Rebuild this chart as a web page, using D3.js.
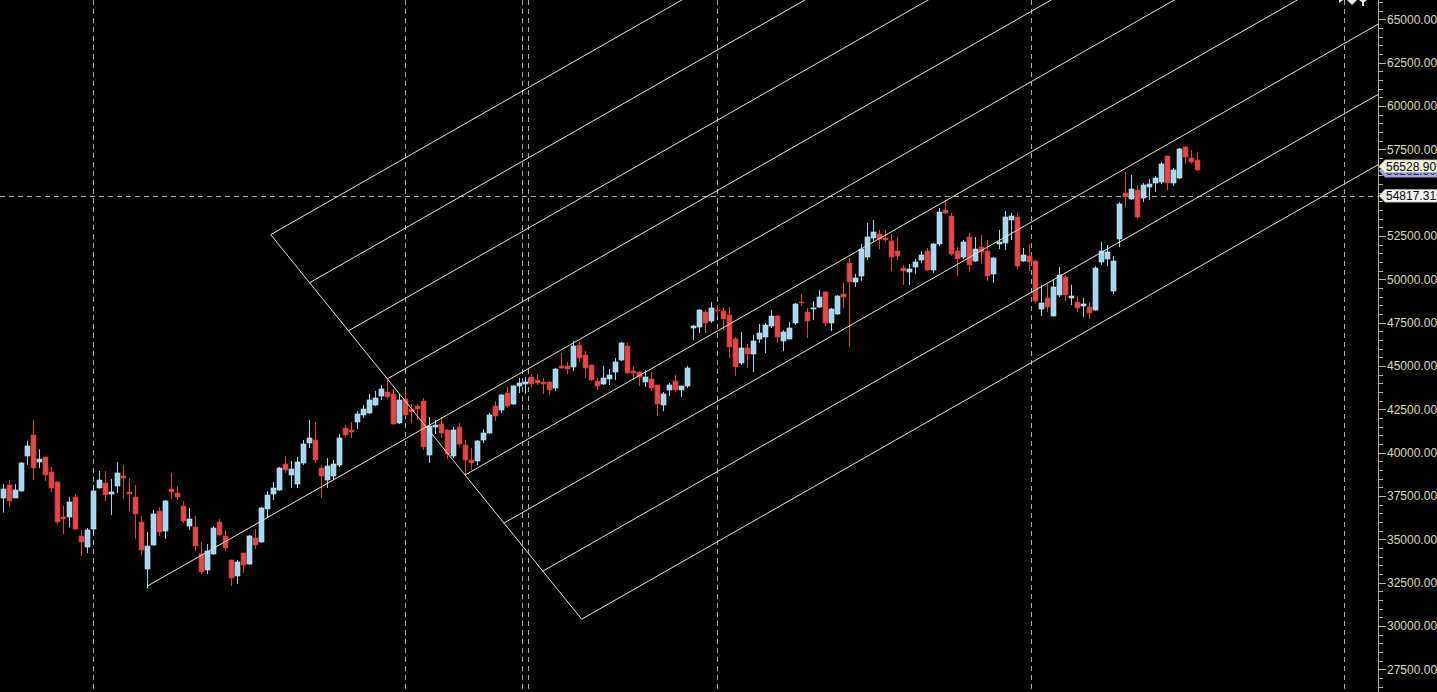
<!DOCTYPE html>
<html>
<head>
<meta charset="utf-8">
<script src="https://d3js.org/d3.v7.min.js"></script>
<style>
  html, body { margin: 0; padding: 0; background: #000; overflow: hidden; }
  svg { display: block; }
  .axis text { font-family: "Liberation Sans", Arial, sans-serif; font-size: 12px; fill: #dcdcb4; }
  .axis line { stroke: #b4b4a0; shape-rendering: crispEdges; }
</style>
</head>
<body>
<script>
// weekly candles
var opens = [37400,38130,37400,37810,39830,41020,39480,39750,38890,38310,36290,36270,37440,35190,34580,35600,37960,38250,37630,38080,
  38650,37730,37440,36000,33290,34670,36630,35480,37900,37670,36920,35770,35710,34150,33230,34150,36000,35190,33810,32880,
  34210,33580,35080,34850,36750,37620,37850,39350,38710,38190,39400,40560,40730,39120,38420,38650,39290,41420,41310,41770,
  42170,42290,42750,43270,43500,43390,41710,43100,42520,42690,42980,39870,41480,41650,41310,39810,41480,40440,39580,39520,
  40730,41140,42690,42460,43440,42810,43850,43960,44370,44190,44080,44080,43730,45000,45000,44940,46210,45640,45060,44140,
  43960,44250,44650,45350,46150,44710,44650,44080,44250,43900,42750,43620,44140,43620,43850,47220,47250,48120,47600,48260,
  48180,47940,46560,45170,46040,45690,46560,46670,47310,47890,46440,46560,47480,48670,48120,48290,48410,49270,47480,48000,
  49160,50940,49850,50190,51290,52390,52620,52390,52210,51640,50660,50430,50710,51120,51640,50540,52040,54000,53660,51640,
  51290,52440,51060,51870,51640,50310,52040,52100,53430,53600,51060,51350,51060,48290,48920,47890,49100,50140,48920,48690,
  48460,48410,48230,51000,51180,49330,52330,54980,54640,55160,54690,55330,55560,55620,57120,55560,55850,57640,57000,56890];
var highs = [38190,38420,38190,39460,40670,41890,40190,39780,39170,38330,36920,37440,37620,35540,35650,38130,38940,38940,38480,39460,
  39290,38540,38130,36350,35420,36690,36870,37270,38830,38080,37210,36810,36350,34850,34730,35770,36170,35540,33830,33810,
  34230,35250,35600,36870,37790,38310,39170,39810,39520,39750,40730,41890,41770,39290,39690,39580,41080,41600,41770,42400,
  42750,43390,43560,43900,44190,43670,43390,43670,42810,42810,43150,42060,41890,42060,41370,41480,41710,40730,40270,40730,
  41370,42290,42980,43390,43790,43900,44310,44370,44540,44540,44310,44140,44890,45750,45230,46440,46390,45870,45080,44310,
  45000,44830,45460,46390,46330,45000,44680,44770,44650,43930,43500,44020,44480,43870,45000,47370,48290,48230,48690,48520,
  48350,48410,46670,46960,46270,46790,47420,47480,48230,47940,47080,47540,48640,49160,48350,48750,49390,49330,48350,49100,
  49790,51230,50310,52040,53250,53430,52850,52850,52620,52440,50830,50890,51180,51640,51810,52100,54120,54580,53830,51870,
  52270,52680,52440,52560,52270,51290,52850,53940,53830,53830,51810,52040,51120,49680,49730,49960,50710,50250,49680,49040,
  48920,48690,50770,52160,51980,51350,54460,56190,56020,55440,55560,55790,55960,56770,57140,56430,57580,57690,57460,57350];
var lows = [36540,36880,37380,37750,39290,38420,39100,38370,37730,35880,35310,35690,35540,34040,34210,35190,37930,37210,36400,37670,
  37330,36630,35020,34100,32170,34620,35190,35020,37330,37270,35940,35540,34330,33000,33000,34100,35190,34330,32310,32420,
  33060,33520,34440,34790,36230,37270,37790,38830,37960,37960,39290,40270,39400,37380,37960,38420,39170,40850,40850,41370,
  42000,42230,42690,43040,43100,41600,41650,42120,41710,41890,40150,39400,41080,40850,39640,39690,40390,38650,39000,39290,
  40560,41080,41830,42290,42580,42750,43440,43390,43730,43900,43390,43330,43560,44830,44540,44710,45230,44310,44140,43620,
  43900,43900,44190,45290,44540,44190,43850,43790,43560,42120,42400,43270,43500,43210,43730,46500,46900,46900,47480,47890,
  47080,45460,44420,45060,44890,44650,46330,45750,47190,46330,45870,46540,47370,48460,46620,47660,48350,47310,47020,47940,
  48350,46100,49560,49910,51120,52210,51750,52160,50480,51120,49680,49680,50310,50940,50480,50370,51930,53770,51350,50190,
  51180,50430,51000,50890,49910,49790,51750,51690,52270,50600,51000,50480,48640,47890,48120,47860,48980,48750,48520,48120,
  47830,47710,48200,50830,50770,49160,51870,54180,54580,53480,54460,54580,55040,55500,55160,55390,55790,56660,56660,56250];
var closes = [37900,37230,37850,39400,40390,39130,39640,38710,37980,36000,36190,37150,35600,34860,35540,37790,38420,37580,37730,38830,
  38540,37630,36460,34380,34620,36460,35420,37210,37730,37440,36060,36170,34620,33120,34330,35650,35250,34500,32770,33690,
  33520,35190,34670,36810,37560,37960,39120,39000,39060,39460,40500,40850,39580,38650,39230,39350,40850,41020,41190,42230,
  42520,43040,43150,43670,43210,41650,43040,42170,42350,42520,40330,41540,41600,41140,39920,41310,40500,39580,39400,40670,
  41140,42170,42120,43330,42690,43850,44020,44080,43960,44020,43960,43620,44830,44890,44830,46150,45460,44890,44190,43850,
  44310,44480,45230,46330,44600,44600,44370,44370,43730,42810,43390,43900,43620,43850,44890,47310,48230,47480,48350,48200,
  47710,46100,44940,46040,45690,46440,46910,47370,47890,46670,46960,47190,48580,48610,47600,48350,48980,47480,48290,49040,
  48980,49850,50080,51750,52440,52730,52330,52270,51290,51350,50480,50600,51000,51410,50540,52040,53890,53830,51460,51180,
  52160,50830,51750,51580,50190,51230,52160,53600,53660,50770,51410,51000,48750,48640,48410,49560,50250,49100,49040,48350,
  48580,48060,50660,51640,51580,51060,54350,54750,55210,53600,55440,55500,55850,56660,55560,56310,57520,57060,56770,56310];

var majorTicks = d3.range(27500, 65001, 2500);
var hiddenLabels = [55000];   // covered by the 54817.31 tag in the original
var minorTicks = d3.range(26500, 66001, 500);
var gridBars = [15, 67, 86.5, 87.5, 119, 171.33, 223.5];   // dashed verticals, in bar units
var hLine = 54817.31;
var lastPrice = 56528.90;
var otherPrice = 56262.90;

// pitchfork anchors: [bar, price]
var pivot = [24, 32300], upper = [44.57, 52580], lower = [96.4, 30390];
var levels = 8;

var W = 1437, H = 692, axisX = 1378;

var svg = d3.select("body").append("svg")
  .attr("width", W).attr("height", H)
  .style("background", "#000");

var x = d3.scaleLinear().domain([0, 199]).range([3.3, 1197.3]);
var y = d3.scaleLinear().domain([27500, 65000]).range([669.3, 19.4]);

svg.append("clipPath").attr("id", "plot")
  .append("rect").attr("x", 0).attr("y", 0).attr("width", axisX).attr("height", H);

var plot = svg.append("g").attr("clip-path", "url(#plot)");

// grid
plot.selectAll(".vgrid").data(gridBars).enter().append("line")
  .attr("x1", function(d){ return Math.round(x(d)) + 0.5; })
  .attr("x2", function(d){ return Math.round(x(d)) + 0.5; })
  .attr("y1", 0).attr("y2", H)
  .attr("stroke", "#a8a8a8").attr("stroke-dasharray", "5,4");

plot.append("line")
  .attr("x1", 0).attr("x2", axisX)
  .attr("y1", Math.round(y(hLine)) + 0.5).attr("y2", Math.round(y(hLine)) + 0.5)
  .attr("stroke", "#a8a8a8").attr("stroke-dasharray", "5,4");

// candles
var bars = d3.range(opens.length);
var up = function(i){ return closes[i] >= opens[i]; };

plot.selectAll(".wick").data(bars).enter().append("line")
  .attr("x1", function(i){ return Math.round(x(i)) + 0.5; })
  .attr("x2", function(i){ return Math.round(x(i)) + 0.5; })
  .attr("y1", function(i){ return y(highs[i]); })
  .attr("y2", function(i){ return y(lows[i]); })
  .attr("stroke", function(i){ return up(i) ? "#9fd3ee" : "#e0403f"; });

plot.selectAll(".body").data(bars).enter().append("rect")
  .attr("x", function(i){ return Math.round(x(i)) - 2; })
  .attr("width", 5)
  .attr("y", function(i){ return Math.round(y(Math.max(opens[i], closes[i]))); })
  .attr("height", function(i){ return Math.max(1, Math.round(Math.abs(y(opens[i]) - y(closes[i])))); })
  .attr("fill", function(i){ return up(i) ? "#a6d6ef" : "#e0484a"; })
  .attr("stroke", function(i){ return up(i) ? "#c4e6f7" : "#cc3838"; })
  .attr("stroke-width", 0.6);

// pitchfork
var p0 = [x(pivot[0]), y(pivot[1])];
var pa = [x(upper[0]), y(upper[1])];
var pb = [x(lower[0]), y(lower[1])];
var mid = [(pa[0] + pb[0]) / 2, (pa[1] + pb[1]) / 2];
var dir = [mid[0] - p0[0], mid[1] - p0[1]];
var far = 10;

var forkLines = d3.range(levels + 1).map(function(k){
  var s = k === levels / 2 ? p0 : [pa[0] + (pb[0] - pa[0]) * k / levels, pa[1] + (pb[1] - pa[1]) * k / levels];
  return [s, [s[0] + dir[0] * far, s[1] + dir[1] * far]];
});
forkLines.push([pa, pb]);

plot.selectAll(".fork").data(forkLines).enter().append("line")
  .attr("x1", function(d){ return d[0][0]; })
  .attr("y1", function(d){ return d[0][1]; })
  .attr("x2", function(d){ return d[1][0]; })
  .attr("y2", function(d){ return d[1][1]; })
  .attr("stroke", "#e6e6dc").attr("stroke-width", 1);

// right price axis
svg.append("line")
  .attr("x1", axisX + 0.5).attr("x2", axisX + 0.5)
  .attr("y1", 0).attr("y2", H)
  .attr("stroke", "#b4b4a0");

svg.append("g").attr("class", "axis")
  .attr("transform", "translate(" + (axisX + 1) + ",0)")
  .call(d3.axisRight(y).tickValues(minorTicks).tickSize(4).tickSizeOuter(0).tickFormat(""))
  .call(function(g){ g.select(".domain").remove(); });

svg.append("g").attr("class", "axis")
  .attr("transform", "translate(" + (axisX + 1) + ",0)")
  .call(d3.axisRight(y).tickValues(majorTicks).tickSize(7).tickSizeOuter(0).tickPadding(1)
    .tickFormat(function(d){ return hiddenLabels.indexOf(d) >= 0 ? "" : d3.format(".2f")(d); }))
  .call(function(g){ g.select(".domain").remove(); });

// price labels
function priceTag(v, fill, textFill) {
  var cy = y(v);
  var g = svg.append("g");
  g.append("path")
    .attr("d", "M" + (axisX + 1) + "," + cy + "L" + (axisX + 7) + "," + (cy - 6.5) +
      "L" + W + "," + (cy - 6.5) + "L" + W + "," + (cy + 6.5) + "L" + (axisX + 7) + "," + (cy + 6.5) + "Z")
    .attr("fill", fill).attr("stroke", "#808080").attr("stroke-width", 0.5);
  g.append("text")
    .attr("x", axisX + 8).attr("y", cy + 4.5)
    .attr("font-family", "Liberation Sans, Arial, sans-serif").attr("font-size", 12)
    .attr("fill", textFill)
    .text(d3.format(".2f")(v));
}
priceTag(otherPrice, "#a4a4f4", "#202040");
priceTag(lastPrice, "#f2f2dc", "#000");
priceTag(hLine, "#f4f4f4", "#000");

// toolbar icons at top right, mostly off screen
var icons = svg.append("g").attr("fill", "#e8e8e8");
icons.append("path").attr("d", "M1331,0 L1339,0 L1339,3 L1343,0 Z");
icons.append("path").attr("d", "M1347,0 L1357,0 L1352,5 Z");
icons.append("rect").attr("x", 1362).attr("y", 0).attr("width", 2).attr("height", 6);
icons.append("path").attr("d", "M1359,0 L1367,0 L1363,3 Z");
</script>
</body>
</html>
